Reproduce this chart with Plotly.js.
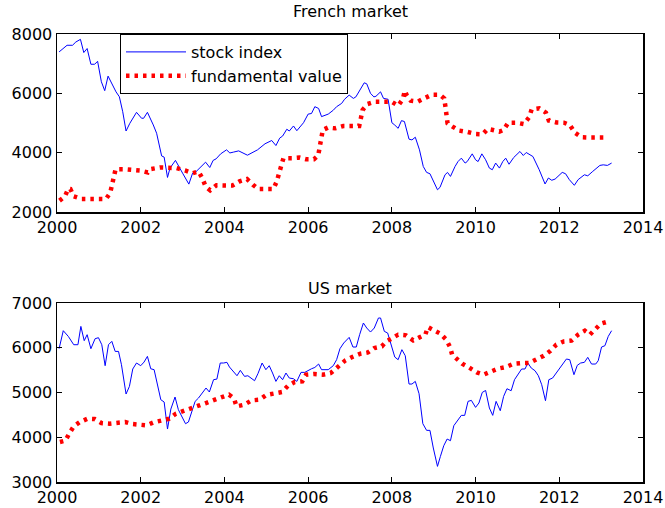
<!DOCTYPE html>
<html><head><meta charset="utf-8">
<script src="https://cdn.plot.ly/plotly-3.0.1.min.js"></script>
<style>html,body{margin:0;padding:0;background:#fff}</style>
</head><body><div id="chart" style="width:665px;height:508px"></div>
<script>
// ---------- data ----------
var xTickVals = [2000, 2002, 2004, 2006, 2008, 2010, 2012, 2014];
var xTickText = ['2000', '2002', '2004', '2006', '2008', '2010', '2012', '2014'];
var frTickVals = [2000, 4000, 6000, 8000];
var frTickText = ['2000', '4000', '6000', '8000'];
var usTickVals = [3000, 4000, 5000, 6000, 7000];
var usTickText = ['3000', '4000', '5000', '6000', '7000'];

var seriesNames = ['stock index', 'fundamental value'];
var panelTitles = ['French market', 'US market'];

var frStockX = [2000.05,2000.16,2000.24,2000.37,2000.45,2000.56,2000.64,2000.72,2000.81,2000.90,2000.97,2001.06,2001.14,2001.22,2001.31,2001.41,2001.49,2001.57,2001.65,2001.74,2001.90,2002.02,2002.07,2002.16,2002.30,2002.38,2002.50,2002.56,2002.64,2002.70,2002.83,2002.89,2003.00,2003.15,2003.24,2003.30,2003.46,2003.55,2003.65,2003.73,2003.80,2003.91,2004.05,2004.13,2004.22,2004.34,2004.55,2004.65,2004.79,2004.97,2005.13,2005.23,2005.32,2005.39,2005.49,2005.55,2005.65,2005.73,2005.89,2006.00,2006.08,2006.16,2006.25,2006.32,2006.48,2006.60,2006.68,2006.80,2006.87,2006.98,2007.08,2007.14,2007.28,2007.34,2007.40,2007.49,2007.57,2007.62,2007.73,2007.80,2007.91,2008.00,2008.07,2008.15,2008.23,2008.30,2008.41,2008.48,2008.56,2008.66,2008.75,2008.83,2008.91,2008.99,2009.09,2009.15,2009.27,2009.33,2009.40,2009.51,2009.58,2009.66,2009.75,2009.80,2009.92,2010.00,2010.06,2010.15,2010.24,2010.33,2010.40,2010.48,2010.57,2010.65,2010.72,2010.80,2010.91,2011.06,2011.14,2011.21,2011.29,2011.37,2011.52,2011.66,2011.74,2011.82,2011.90,2012.07,2012.15,2012.24,2012.36,2012.45,2012.60,2012.68,2012.80,2012.97,2013.05,2013.15,2013.25];
var frStockY = [7396,7510,7620,7620,7730,7820,7375,7510,6980,6980,7080,6390,6090,6580,6330,6050,5885,5380,4730,4990,5360,5160,5160,5360,4935,4655,3890,3850,3165,3480,3740,3600,3310,2940,3310,3330,3535,3680,3500,3740,3790,3960,4095,3990,4020,4060,3915,4000,4095,4300,4410,4240,4490,4560,4790,4730,4900,4740,5010,5300,5320,5550,5490,5215,5300,5430,5550,5660,5800,5940,5830,5880,6245,6355,6320,6000,5880,5900,6050,5830,5800,5010,4930,4820,5080,5050,4455,4430,4520,4095,3535,3335,3290,3030,2750,2830,3255,3335,3200,3535,3700,3815,3650,3700,3960,3760,3700,3960,3760,3480,3425,3650,3480,3700,3815,3610,3835,4040,3905,4005,3925,3870,3425,2945,3145,3070,3110,3335,3290,3090,2900,3090,3255,3220,3370,3570,3590,3570,3650];

var frFundX = [2000.06,2000.19,2000.27,2000.32,2000.40,2000.59,2000.80,2001.00,2001.17,2001.27,2001.32,2001.37,2001.40,2001.60,2001.80,2001.98,2002.17,2002.23,2002.46,2002.66,2002.85,2003.06,2003.24,2003.38,2003.47,2003.55,2003.66,2003.81,2004.01,2004.19,2004.36,2004.54,2004.68,2004.81,2004.99,2005.17,2005.25,2005.31,2005.35,2005.41,2005.61,2005.79,2005.95,2006.14,2006.24,2006.28,2006.30,2006.35,2006.47,2006.64,2006.84,2007.04,2007.22,2007.26,2007.30,2007.42,2007.60,2007.79,2007.99,2008.15,2008.26,2008.31,2008.36,2008.45,2008.62,2008.77,2008.95,2009.15,2009.25,2009.28,2009.30,2009.33,2009.45,2009.61,2009.80,2010.00,2010.17,2010.29,2010.41,2010.57,2010.67,2010.78,2010.98,2011.15,2011.28,2011.34,2011.52,2011.68,2011.75,2011.93,2012.11,2012.25,2012.37,2012.53,2012.72,2012.90,2013.13];
var frFundY = [2383,2527,2785,2775,2527,2440,2440,2440,2440,2640,2920,3220,3445,3445,3420,3400,3335,3445,3500,3480,3480,3400,3310,3365,3145,2860,2730,2900,2900,2890,3030,3110,2920,2775,2775,2775,3030,3310,3570,3815,3815,3835,3780,3780,3905,4205,4540,4765,4845,4820,4900,4900,4900,5160,5440,5640,5720,5720,5720,5585,5800,6090,5920,5750,5720,5830,5950,5950,5830,5550,5270,4990,4880,4745,4700,4630,4620,4800,4765,4710,4765,5010,5010,4965,5195,5460,5495,5350,5080,5020,5010,4935,4675,4520,4510,4510,4510];

var usStockX = [2000.05,2000.15,2000.27,2000.40,2000.50,2000.57,2000.65,2000.72,2000.81,2000.91,2000.99,2001.07,2001.15,2001.23,2001.31,2001.39,2001.47,2001.54,2001.65,2001.73,2001.81,2001.90,2002.00,2002.08,2002.16,2002.24,2002.32,2002.40,2002.48,2002.56,2002.64,2002.72,2002.82,2002.90,2002.99,2003.07,2003.14,2003.22,2003.30,2003.38,2003.46,2003.56,2003.64,2003.74,2003.82,2003.90,2003.98,2004.06,2004.12,2004.20,2004.30,2004.38,2004.48,2004.56,2004.72,2004.80,2004.90,2004.99,2005.07,2005.15,2005.23,2005.31,2005.39,2005.47,2005.55,2005.65,2005.73,2005.83,2005.92,2006.08,2006.16,2006.25,2006.32,2006.48,2006.60,2006.68,2006.76,2006.85,2006.98,2007.07,2007.15,2007.23,2007.32,2007.40,2007.49,2007.58,2007.68,2007.73,2007.82,2007.90,2008.00,2008.07,2008.15,2008.24,2008.32,2008.41,2008.48,2008.56,2008.65,2008.74,2008.83,2008.91,2008.99,2009.09,2009.16,2009.24,2009.32,2009.40,2009.48,2009.56,2009.66,2009.74,2009.82,2009.90,2010.00,2010.08,2010.16,2010.24,2010.33,2010.41,2010.49,2010.59,2010.67,2010.75,2010.85,2010.93,2011.02,2011.10,2011.18,2011.25,2011.33,2011.42,2011.50,2011.58,2011.67,2011.75,2011.84,2011.93,2012.01,2012.09,2012.17,2012.25,2012.35,2012.43,2012.51,2012.60,2012.68,2012.77,2012.87,2012.93,2013.01,2013.09,2013.17,2013.25];
var usStockY = [5979,6381,6254,6068,6068,6477,6158,6292,5979,6202,6225,6068,5599,6068,6143,5918,5918,5621,4966,5136,5525,5659,5599,5680,5807,5530,5510,5136,4839,4787,4184,4630,4899,4615,4466,4303,4340,4578,4802,4876,4988,5100,5011,5286,5300,5659,5659,5674,5570,5473,5375,5495,5360,5375,5263,5420,5659,5510,5599,5435,5248,5375,5286,5435,5323,5308,5248,5450,5450,5530,5560,5636,5510,5510,5599,5733,5979,6106,6232,6016,6016,6292,6553,6441,6351,6441,6665,6665,6366,6329,5994,5792,5733,5957,5822,5189,5189,5248,4973,4303,4154,4154,3760,3349,3572,3811,3960,3923,4258,4370,4489,4489,4802,4824,4668,4765,5002,5046,4653,4489,4802,4593,4913,5084,5040,5286,5420,5525,5525,5659,5547,5487,5375,5174,4817,5286,5323,5435,5547,5659,5748,5733,5398,5607,5659,5674,5786,5636,5636,5710,6016,6046,6254,6381];

var usFundX = [2000.07,2000.20,2000.30,2000.40,2000.55,2000.73,2000.90,2001.06,2001.26,2001.44,2001.63,2001.79,2001.96,2002.14,2002.31,2002.49,2002.68,2002.84,2003.02,2003.20,2003.38,2003.56,2003.74,2003.92,2004.11,2004.23,2004.29,2004.47,2004.65,2004.84,2005.00,2005.20,2005.38,2005.52,2005.68,2005.86,2005.95,2006.15,2006.35,2006.54,2006.60,2006.75,2006.89,2007.05,2007.25,2007.43,2007.58,2007.76,2007.87,2007.99,2008.15,2008.34,2008.51,2008.66,2008.80,2008.86,2009.00,2009.16,2009.30,2009.39,2009.44,2009.54,2009.68,2009.84,2010.03,2010.19,2010.37,2010.53,2010.73,2010.91,2011.10,2011.28,2011.47,2011.63,2011.79,2011.93,2012.11,2012.29,2012.45,2012.61,2012.73,2012.85,2012.99,2013.18];
var usFundY = [3894,3924,4095,4243,4341,4414,4406,4318,4303,4318,4340,4296,4281,4266,4333,4378,4414,4526,4578,4638,4705,4765,4817,4891,4951,4862,4690,4727,4824,4839,4944,4988,5011,5152,5233,5248,5398,5413,5398,5435,5487,5599,5718,5792,5867,5897,5994,6031,6143,6202,6292,6277,6165,6232,6292,6463,6389,6314,6180,6016,5845,5755,5644,5562,5450,5398,5473,5532,5570,5644,5659,5659,5748,5822,5934,6068,6143,6158,6292,6381,6292,6418,6537,6589];

// ---------- styling ----------
var FONT = 'DejaVu Sans, Arial, sans-serif';
var stockLine = {color: '#0000ff', width: 1};
var fundLine = {color: '#ff0000', width: 4.5, dash: '3.5px,5px'};

var traces = [
  {x: frStockX, y: frStockY, xaxis: 'x', yaxis: 'y', type: 'scatter', mode: 'lines', name: seriesNames[0], line: stockLine, legendgroup: 's'},
  {x: frFundX, y: frFundY, xaxis: 'x', yaxis: 'y', type: 'scatter', mode: 'lines', name: seriesNames[1], line: fundLine, legendgroup: 'f'},
  {x: usStockX, y: usStockY, xaxis: 'x2', yaxis: 'y2', type: 'scatter', mode: 'lines', name: seriesNames[0], line: stockLine, showlegend: false},
  {x: usFundX, y: usFundY, xaxis: 'x2', yaxis: 'y2', type: 'scatter', mode: 'lines', name: seriesNames[1], line: fundLine, showlegend: false}
];

function axisBase() {
  return {
    ticks: 'inside', ticklen: 5, tickwidth: 1, tickcolor: '#000',
    showline: true, linecolor: '#000', linewidth: 1.5, mirror: 'ticks',
    showgrid: false, zeroline: false, fixedrange: true,
    tickfont: {family: FONT, size: 16, color: '#000'}
  };
}
function ax(extra) { var a = axisBase(); for (var k in extra) a[k] = extra[k]; return a; }

var xDom = [57 / 665, 643 / 665];
var layout = {
  width: 665, height: 508,
  margin: {l: 0, r: 0, t: 0, b: 0},
  paper_bgcolor: '#fff', plot_bgcolor: '#fff',
  font: {family: FONT, size: 16, color: '#000'},
  xaxis: ax({domain: xDom, anchor: 'y', range: [2000, 2014], tickmode: 'array', tickvals: xTickVals, ticktext: xTickText}),
  yaxis: ax({domain: [(508 - 212) / 508, (508 - 34) / 508], anchor: 'x', range: [2000, 8000], tickmode: 'array', tickvals: frTickVals, ticktext: frTickText}),
  xaxis2: ax({domain: xDom, anchor: 'y2', range: [2000, 2014], tickmode: 'array', tickvals: xTickVals, ticktext: xTickText}),
  yaxis2: ax({domain: [(508 - 482) / 508, (508 - 303) / 508], anchor: 'x2', range: [3000, 7000], tickmode: 'array', tickvals: usTickVals, ticktext: usTickText}),
  showlegend: true,
  legend: {
    x: 120 / 665, y: (508 - 34) / 508, xanchor: 'left', yanchor: 'top',
    bordercolor: '#000', borderwidth: 1, bgcolor: '#fff',
    font: {family: FONT, size: 16, color: '#000'},
    itemwidth: 60, tracegroupgap: 0
  },
  annotations: [
    {text: panelTitles[0], xref: 'paper', yref: 'paper', x: 350 / 665, y: (508 - 12) / 508, xanchor: 'center', yanchor: 'middle', showarrow: false, font: {family: FONT, size: 16, color: '#000'}},
    {text: panelTitles[1], xref: 'paper', yref: 'paper', x: 350 / 665, y: (508 - 288) / 508, xanchor: 'center', yanchor: 'middle', showarrow: false, font: {family: FONT, size: 16, color: '#000'}}
  ]
};

Plotly.newPlot('chart', traces, layout, {displayModeBar: false, staticPlot: true});
</script></body></html>
